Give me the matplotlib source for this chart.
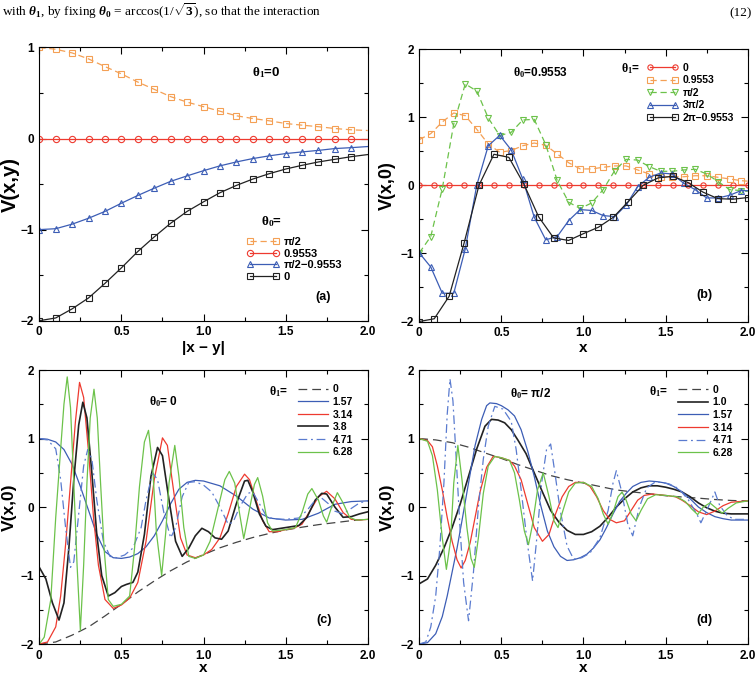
import numpy as np
import matplotlib
matplotlib.use('Agg')
import matplotlib.pyplot as plt
from matplotlib.ticker import MultipleLocator, FuncFormatter

plt.rcParams['font.family'] = ['Liberation Sans', 'DejaVu Sans']
plt.rcParams['font.weight'] = 'bold'
plt.rcParams['mathtext.fontset'] = 'custom'
plt.rcParams['mathtext.rm'] = 'Liberation Serif'
plt.rcParams['mathtext.it'] = 'Liberation Serif:italic'
plt.rcParams['mathtext.bf'] = 'Liberation Serif:bold'

ORANGE = '#f4a055'
RED = '#ee3a2f'
BLUE = '#3c5db5'
BLUE_DD = '#5a7bcf'
GREEN = '#6cc24a'
BLACK = '#222222'

# ---------------- panel (a): theta1 = 0, V(x,y) vs |x-y|
a_x = [0.0, 0.1, 0.2, 0.3, 0.4, 0.5, 0.6, 0.7, 0.8, 0.9, 1.0,
       1.1, 1.2, 1.3, 1.4, 1.5, 1.6, 1.7, 1.8, 1.9, 2.0]
a_half_pi = [1.0, 0.98, 0.94, 0.874, 0.79, 0.71, 0.62, 0.54, 0.46, 0.40, 0.35,
             0.30, 0.25, 0.22, 0.195, 0.165, 0.147, 0.13, 0.11, 0.096, 0.088]
a_0955 = [0.0] * 21
a_diff = [-1.0, -0.99, -0.94, -0.875, -0.80, -0.71, -0.625, -0.545, -0.47, -0.41, -0.353,
          -0.30, -0.257, -0.22, -0.19, -0.165, -0.147, -0.13, -0.11, -0.10, -0.088]
a_zero = [-2.0, -1.97, -1.87, -1.75, -1.59, -1.42, -1.24, -1.08, -0.93, -0.80, -0.695,
          -0.595, -0.515, -0.445, -0.386, -0.335, -0.294, -0.257, -0.228, -0.199, -0.176]

# ---------------- panel (b): theta0 = 0.9553, V(x,0)
b_x_fine = [0.0, 0.07, 0.14, 0.21, 0.28, 0.35, 0.42, 0.49, 0.56, 0.63, 0.70, 0.77, 0.84, 0.91,
            0.98, 1.05, 1.12, 1.19, 1.26, 1.33, 1.40, 1.47, 1.54, 1.61, 1.68, 1.75, 1.82,
            1.89, 1.96, 2.0]
b_x_coarse = list(np.linspace(0, 2, 23))
b_t0 = [0.0] * 23
b_t0955 = [0.67, 0.758, 0.929, 1.061, 1.022, 0.822, 0.606, 0.484, 0.51, 0.58, 0.62, 0.587,
           0.46, 0.33, 0.24, 0.24, 0.264, 0.284, 0.284, 0.225, 0.166, 0.125, 0.127, 0.125,
           0.14, 0.14, 0.117, 0.093, 0.068, 0.06]
b_half_pi = [-0.993, -0.753, -0.05, 0.90, 1.487, 1.384, 0.988, 0.729, 0.778, 0.958, 0.968,
             0.597, 0.07, -0.25, -0.34, -0.26, -0.064, 0.215, 0.38, 0.37, 0.274, 0.205,
             0.205, 0.225, 0.235, 0.166, 0.054, -0.064, -0.078, -0.09]
b_3half_pi = [-0.993, -1.20, -1.585, -1.585, -0.934, 0.0, 0.58, 0.733, 0.518, 0.093, -0.469,
              -0.80, -0.753, -0.518, -0.357, -0.37, -0.445, -0.46, -0.29, -0.02, 0.117, 0.18,
              0.166, 0.03, -0.064, -0.186, -0.186, -0.147, -0.078, -0.08]
b_2pi_m = [-2.0, -1.96, -1.63, -0.85, 0.0, 0.455, 0.41, 0.02, -0.465, -0.773, -0.81, -0.71,
           -0.616, -0.47, -0.24, 0.0, 0.108, 0.132, 0.04, -0.10, -0.196, -0.205, -0.18]

# ---------------- panel (c): theta0 = 0
c_x_0 = a_x
c_v_0 = a_zero
c_x_157 = [0, .05, .1, .15, .2, .25, .3, .35, .4, .45, .5, .55, .6, .65, .7, .75, .8, .85, .9,
           .95, 1.0, 1.1, 1.2, 1.3, 1.4, 1.5, 1.6, 1.7, 1.8, 1.9, 2.0]
c_v_157 = [1.0, 0.99, 0.95, 0.84, 0.62, 0.3, -0.05, -0.4, -0.65, -0.74, -0.75, -0.73, -0.68,
           -0.58, -0.42, -0.2, 0.05, 0.26, 0.36, 0.39, 0.38, 0.31, 0.16, -0.03, -0.16, -0.19,
           -0.18, -0.09, 0.04, 0.08, 0.09]
c_x_314 = [0, .05, .1, .13, .16, .19, .22, .245, .27, .3, .33, .36, .4, .45, .5, .55, .6, .65,
           .7, .75, .78, .82, .86, .9, .95, 1.0, 1.05, 1.1, 1.15, 1.2, 1.25, 1.28, 1.32, 1.36,
           1.4, 1.45, 1.5, 1.55, 1.6, 1.65, 1.7, 1.75, 1.8, 1.85, 1.9, 1.95, 2.0]
c_v_314 = [-2.0, -1.97, -1.75, -1.3, -0.55, 0.35, 1.25, 1.82, 1.6, 0.8, -0.15, -0.85, -1.35,
           -1.48, -1.43, -1.33, -1.1, -0.5, 0.4, 1.01, 0.9, 0.2, -0.45, -0.7, -0.74, -0.7,
           -0.62, -0.45, -0.1, 0.3, 0.48, 0.4, 0.1, -0.2, -0.36, -0.36, -0.33, -0.31, -0.25,
           -0.05, 0.15, 0.23, 0.12, -0.08, -0.18, -0.19, -0.18]
c_x_38 = [0, .04, .08, .12, .15, .18, .21, .24, .265, .29, .32, .35, .38, .42, .46, .5, .53,
          .57, .6, .64, .68, .72, .75, .79, .83, .87, .91, .95, .99, 1.03, 1.07, 1.11, 1.15,
          1.2, 1.25, 1.27, 1.3, 1.34, 1.38, 1.42, 1.5, 1.58, 1.63, 1.68, 1.72, 1.75, 1.8,
          1.85, 1.9, 1.95, 2.0]
c_v_38 = [-0.88, -1.05, -1.4, -1.65, -1.4, -0.6, 0.4, 1.2, 1.53, 1.3, 0.5, -0.4, -1.0, -1.3,
          -1.25, -1.16, -1.13, -1.1, -0.95, -0.4, 0.45, 0.87, 0.75, 0.1, -0.5, -0.72, -0.6,
          -0.42, -0.31, -0.36, -0.45, -0.47, -0.35, 0.05, 0.38, 0.39, 0.22, -0.1, -0.28,
          -0.33, -0.3, -0.27, -0.15, 0.1, 0.2, 0.19, 0.0, -0.15, -0.14, -0.1, -0.07]
c_x_471 = [0, .05, .1, .13, .16, .19, .21, .24, .27, .295, .32, .35, .39, .43, .47, .52, .57,
           .62, .65, .69, .72, .76, .8, .83, .87, .91, .95, 1.0, 1.05, 1.1, 1.15, 1.18, 1.22,
           1.27, 1.3, 1.34, 1.38, 1.42, 1.5, 1.58, 1.63, 1.68, 1.72, 1.76, 1.8, 1.85, 1.9,
           1.95, 2.0]
c_v_471 = [1.0, 0.98, 0.85, 0.4, -0.3, -0.88, -0.8, -0.1, 0.6, 0.84, 0.7, 0.1, -0.5, -0.72,
           -0.74, -0.7, -0.6, -0.3, 0.1, 0.5, 0.4, -0.1, -0.45, -0.3, 0.15, 0.36, 0.37, 0.32,
           0.22, 0.0, -0.25, -0.22, 0.0, 0.2, 0.22, 0.05, -0.12, -0.17, -0.18, -0.16, -0.05,
           0.1, 0.13, 0.05, -0.06, -0.1, -0.02, 0.06, 0.09]
c_x_628 = [0, .03, .07, .1, .13, .15, .17, .19, .21, .23, .25, .27, .29, .31, .333, .353, .373,
           .395, .42, .45, .5, .55, .58, .61, .64, .665, .69, .713, .745, .77, .79, .825, .85,
           .88, .91, .95, 1.0, 1.04, 1.09, 1.13, 1.157, 1.19, 1.22, 1.245, 1.28, 1.31, 1.33,
           1.36, 1.39, 1.42, 1.5, 1.56, 1.6, 1.635, 1.66, 1.7, 1.73, 1.75, 1.78, 1.815, 1.85,
           1.89, 1.93, 2.0]
c_v_628 = [-2.0, -1.9, -1.35, -0.15, 0.85, 1.5, 1.9, 1.45, 0.35, -0.85, -1.8, -0.85, 0.35,
           1.3, 1.72, 1.3, 0.35, -0.62, -1.35, -1.45, -1.42, -1.3, -0.6, 0.3, 0.95, 1.12, 0.6,
           -0.37, -1.0, -0.37, 0.35, 0.9, 0.45, -0.3, -0.72, -0.75, -0.7, -0.5, 0.0, 0.4, 0.52,
           0.35, -0.1, -0.46, -0.03, 0.33, 0.43, 0.16, -0.23, -0.35, -0.33, -0.3, -0.08, 0.19,
           0.27, 0.1, -0.13, -0.22, 0.0, 0.21, 0.06, -0.15, -0.19, -0.18]

# ---------------- panel (d): theta0 = pi/2
d_x_0 = a_x
d_v_0 = a_half_pi
d_x_10 = [0, .05, .1, .15, .2, .25, .3, .35, .4, .44, .48, .52, .56, .6, .65, .7, .75, .8, .85,
          .9, .95, 1.0, 1.05, 1.1, 1.15, 1.2, 1.25, 1.3, 1.35, 1.4, 1.45, 1.5, 1.55, 1.6, 1.65,
          1.7, 1.75, 1.8, 1.85, 1.9, 2.0]
d_v_10 = [-1.12, -1.05, -0.85, -0.6, -0.3, 0.05, 0.45, 0.85, 1.18, 1.28, 1.27, 1.23, 1.13,
          0.98, 0.78, 0.5, 0.22, -0.05, -0.22, -0.34, -0.4, -0.4, -0.36, -0.28, -0.15, 0.0,
          0.12, 0.22, 0.28, 0.31, 0.31, 0.29, 0.26, 0.22, 0.15, 0.06, -0.01, -0.06, -0.09,
          -0.1, -0.1]
d_x_157 = [0, .05, .1, .14, .17, .2, .23, .26, .3, .34, .38, .41, .43, .47, .5, .54, .58, .62,
           .66, .7, .74, .78, .82, .86, .9, .94, .98, 1.02, 1.06, 1.1, 1.14, 1.18, 1.22, 1.26,
           1.3, 1.35, 1.4, 1.45, 1.5, 1.55, 1.6, 1.65, 1.7, 1.75, 1.8, 1.85, 1.9, 2.0]
d_v_157 = [-2.0, -1.98, -1.85, -1.6, -1.3, -0.95, -0.6, -0.2, 0.35, 0.9, 1.28, 1.48, 1.52,
           1.51, 1.48, 1.42, 1.33, 1.13, 0.82, 0.45, 0.02, -0.35, -0.58, -0.72, -0.78, -0.77,
           -0.74, -0.69, -0.6, -0.48, -0.3, -0.1, 0.08, 0.2, 0.3, 0.36, 0.38, 0.37, 0.35, 0.3,
           0.22, 0.12, 0.0, -0.08, -0.14, -0.17, -0.19, -0.19]
d_x_314 = [0, .05, .08, .11, .14, .17, .2, .23, .255, .28, .31, .34, .37, .41, .45, .5, .55,
           .58, .62, .66, .7, .75, .79, .83, .87, .91, .95, 1.0, 1.04, 1.08, 1.12, 1.16, 1.2,
           1.25, 1.29, 1.33, 1.37, 1.42, 1.5, 1.56, 1.6, 1.65, 1.7, 1.75, 1.8, 1.85, 1.9, 2.0]
d_v_314 = [1.0, 0.97, 0.88, 0.6, 0.25, -0.15, -0.5, -0.77, -0.89, -0.78, -0.52, -0.15, 0.22,
           0.58, 0.74, 0.72, 0.68, 0.6, 0.4, 0.05, -0.3, -0.5, -0.4, -0.1, 0.15, 0.3, 0.36,
           0.36, 0.3, 0.15, -0.05, -0.18, -0.23, -0.2, -0.05, 0.1, 0.17, 0.19, 0.17, 0.15,
           0.1, 0.02, -0.07, -0.11, -0.06, 0.02, 0.07, 0.09]
d_x_471 = [0, .04, .07, .1, .125, .15, .17, .187, .205, .225, .248, .27, .3, .33, .36, .39,
           .42, .46, .51, .56, .59, .62, .655, .69, .715, .745, .775, .8, .826, .857, .9, .94,
           .99, 1.04, 1.1, 1.15, 1.18, 1.2, 1.23, 1.27, 1.3, 1.34, 1.385, 1.44, 1.52, 1.58,
           1.64, 1.69, 1.715, 1.76, 1.8, 1.83, 1.877, 1.92, 2.0]
d_v_471 = [-2.0, -1.97, -1.75, -1.3, -0.6, 0.35, 1.35, 1.87, 1.55, 0.7, -0.3, -1.1, -1.66,
           -0.95, 0.0, 0.7, 1.18, 1.47, 1.43, 1.25, 0.84, 0.26, -0.47, -1.08, -0.47, 0.35, 0.84,
           0.92, 0.5, -0.03, -0.57, -0.76, -0.74, -0.67, -0.45, -0.05, 0.35, 0.53, 0.25, -0.25,
           -0.42, 0.0, 0.28, 0.37, 0.34, 0.27, 0.1, -0.1, -0.23, 0.0, 0.22, 0.02, -0.13, -0.18,
           -0.18]
d_x_628 = [0, .05, .08, .11, .14, .165, .19, .21, .235, .26, .29, .315, .335, .36, .39, .42,
           .46, .5, .55, .58, .61, .64, .665, .69, .72, .755, .79, .82, .845, .875, .91, .95,
           1.0, 1.05, 1.09, 1.12, 1.15, 1.18, 1.21, 1.235, 1.26, 1.29, 1.32, 1.35, 1.39, 1.44,
           1.5, 1.57, 1.62, 1.66, 1.695, 1.73, 1.77, 1.8, 1.845, 1.88, 1.93, 2.0]
d_v_628 = [1.0, 0.96, 0.75, 0.25, -0.45, -0.91, -0.5, 0.35, 0.9, 0.4, -0.3, -0.75, -0.88,
           -0.45, 0.2, 0.6, 0.74, 0.72, 0.68, 0.5, 0.1, -0.35, -0.55, -0.25, 0.25, 0.5, 0.15,
           -0.2, -0.3, -0.05, 0.22, 0.35, 0.36, 0.3, 0.12, -0.1, -0.25, -0.08, 0.15, 0.22, 0.1,
           -0.1, -0.2, -0.05, 0.12, 0.18, 0.17, 0.15, 0.08, -0.03, -0.11, 0.0, 0.06, 0.0,
           -0.09, -0.02, 0.06, 0.09]


def setup(ax, ylo, yhi):
    ax.set_xlim(0, 2)
    ax.set_ylim(ylo, yhi)
    ax.xaxis.set_major_locator(MultipleLocator(0.5))
    ax.xaxis.set_minor_locator(MultipleLocator(0.25))
    ax.yaxis.set_major_locator(MultipleLocator(1))
    ax.yaxis.set_minor_locator(MultipleLocator(0.5))
    ax.xaxis.set_major_formatter(FuncFormatter(lambda v, p: '0' if v == 0 else f'{v:.1f}'))
    ax.yaxis.set_major_formatter(FuncFormatter(lambda v, p: f'{int(round(v))}'.replace('-', '\u2212')))
    ax.tick_params(which='both', direction='in', top=True, right=True, width=0.8)
    ax.tick_params(which='major', length=5, labelsize=8.5, pad=4)
    ax.tick_params(which='minor', length=3)
    for s in ax.spines.values():
        s.set_linewidth(0.8)


def labels(ax, xl, yl, xpos, ypos, xsize, ysize):
    ax.set_xlabel(xl, fontsize=xsize, fontweight='bold')
    ax.set_ylabel(yl, fontsize=ysize, fontweight='bold')
    ax.xaxis.set_label_coords(0.5, xpos)
    ax.yaxis.set_label_coords(ypos, 0.5)
    ax.xaxis.label.set_verticalalignment('center')
    ax.yaxis.label.set_verticalalignment('center')


fig = plt.figure(figsize=(7.56, 6.8), dpi=100)
ax_a = fig.add_axes([0.052, 0.5284, 0.4344, 0.4018])
ax_b = fig.add_axes([0.5546, 0.5272, 0.4344, 0.4007])
ax_c = fig.add_axes([0.052, 0.0529, 0.4344, 0.4029])
ax_d = fig.add_axes([0.5546, 0.0529, 0.4344, 0.4029])

mk = dict(markersize=4.5, markerfacecolor='none', markeredgewidth=0.8, linewidth=0.9)
mkb = dict(markersize=3.8, markerfacecolor='none', markeredgewidth=0.8, linewidth=0.9)

# (a)
setup(ax_a, -2, 1)
la1, = ax_a.plot(a_x, a_half_pi, color=ORANGE, marker='s', dashes=(5, 3), markevery=slice(0, 20), **mk)
la2, = ax_a.plot(a_x, a_0955, color=RED, marker='o', markevery=slice(0, 20), **mk)
la3, = ax_a.plot(a_x, a_diff, color=BLUE, marker='^', markevery=slice(0, 20), **mk)
la4, = ax_a.plot(a_x, a_zero, color=BLACK, marker='s', markevery=slice(0, 20), **mk)
ax_a.legend([la1, la2, la3, la4], ['\u03c0/2', '0.9553', '\u03c0/2\u22120.9553', '0'],
            loc='upper left', bbox_to_anchor=(0.632, 0.307), frameon=False, fontsize=8,
            numpoints=2, handlelength=2.9, handletextpad=0.4, labelspacing=0.16,
            borderpad=0, borderaxespad=0)
ax_a.text(0.648, 0.908, r'$\mathrm{\theta}_\mathrm{1}$=0', transform=ax_a.transAxes,
          fontsize=9.5, va='center')
ax_a.text(0.675, 0.362, r'$\mathrm{\theta}_\mathrm{0}$=', transform=ax_a.transAxes,
          fontsize=9.5, va='center')
ax_a.text(0.842, 0.088, '(a)', transform=ax_a.transAxes, fontsize=9, va='center')
labels(ax_a, '|x \u2212 y|', 'V(x,y)', -0.10, -0.088, 11, 14.5)

# (b)
setup(ax_b, -2, 2)
lb1, = ax_b.plot(b_x_coarse, b_t0, color=RED, marker='o', **mkb)
lb2, = ax_b.plot(b_x_fine, b_t0955, color=ORANGE, marker='s', dashes=(5, 3), markevery=slice(0, 29), **mkb)
lb3, = ax_b.plot(b_x_fine, b_half_pi, color=GREEN, marker='v', dashes=(5, 3), markevery=slice(0, 29), **mkb)
lb4, = ax_b.plot(b_x_fine, b_3half_pi, color=BLUE, marker='^', markevery=slice(0, 29), **mkb)
lb5, = ax_b.plot(b_x_coarse, b_2pi_m, color=BLACK, marker='s', **mkb)
ax_b.legend([lb1, lb2, lb3, lb4, lb5], ['0', '0.9553', '\u03c0/2', '3\u03c0/2', '2\u03c0\u22120.9553'],
            loc='upper left', bbox_to_anchor=(0.692, 0.95), frameon=False, fontsize=7.5,
            numpoints=2, handlelength=3.0, handletextpad=0.5, labelspacing=0.25,
            borderpad=0, borderaxespad=0)
ax_b.text(0.613, 0.929, r'$\mathrm{\theta}_\mathrm{1}$=', transform=ax_b.transAxes,
          fontsize=8.5, va='center')
ax_b.text(0.285, 0.914, r'$\mathrm{\theta}_\mathrm{0}$=0.9553', transform=ax_b.transAxes,
          fontsize=8.5, va='center')
ax_b.text(0.845, 0.097, '(b)', transform=ax_b.transAxes, fontsize=9, va='center')
labels(ax_b, 'x', 'V(x,0)', -0.099, -0.098, 11, 13)

ln = dict(linewidth=0.9)

# (c)
setup(ax_c, -2, 2)
lc1, = ax_c.plot(c_x_0, c_v_0, color='#444444', dashes=(7, 4), **ln)
lc2, = ax_c.plot(c_x_157, c_v_157, color=BLUE, **ln)
lc3, = ax_c.plot(c_x_314, c_v_314, color=RED, **ln)
lc4, = ax_c.plot(c_x_38, c_v_38, color=BLACK, linewidth=1.2)
lc5, = ax_c.plot(c_x_471, c_v_471, color=BLUE_DD, dashes=(7, 3, 1.5, 3), **ln)
lc6, = ax_c.plot(c_x_628, c_v_628, color=GREEN, **ln)
ax_c.legend([lc1, lc2, lc3, lc4, lc5, lc6], ['0', '1.57', '3.14', '3.8', '4.71', '6.28'],
            loc='upper left', bbox_to_anchor=(0.788, 0.948), frameon=False, fontsize=7.5,
            handlelength=2.9, handletextpad=0.4, labelspacing=0.25,
            borderpad=0, borderaxespad=0)
ax_c.text(0.70, 0.923, r'$\mathrm{\theta}_\mathrm{1}$=', transform=ax_c.transAxes,
          fontsize=8.5, va='center')
ax_c.text(0.334, 0.884, r'$\mathrm{\theta}_\mathrm{0}$= 0', transform=ax_c.transAxes,
          fontsize=8.5, va='center')
ax_c.text(0.845, 0.088, '(c)', transform=ax_c.transAxes, fontsize=9, va='center')
labels(ax_c, 'x', 'V(x,0)', -0.086, -0.092, 11, 12.5)

# (d)
setup(ax_d, -2, 2)
ld1, = ax_d.plot(d_x_0, d_v_0, color='#444444', dashes=(7, 4), **ln)
ld2, = ax_d.plot(d_x_10, d_v_10, color=BLACK, linewidth=1.2)
ld3, = ax_d.plot(d_x_157, d_v_157, color=BLUE, **ln)
ld4, = ax_d.plot(d_x_314, d_v_314, color=RED, **ln)
ld5, = ax_d.plot(d_x_471, d_v_471, color=BLUE_DD, dashes=(7, 3, 1.5, 3), **ln)
ld6, = ax_d.plot(d_x_628, d_v_628, color=GREEN, **ln)
ax_d.legend([ld1, ld2, ld3, ld4, ld5, ld6], ['0', '1.0', '1.57', '3.14', '4.71', '6.28'],
            loc='upper left', bbox_to_anchor=(0.788, 0.946), frameon=False, fontsize=7.5,
            handlelength=2.9, handletextpad=0.4, labelspacing=0.25,
            borderpad=0, borderaxespad=0)
ax_d.text(0.699, 0.923, r'$\mathrm{\theta}_\mathrm{1}$=', transform=ax_d.transAxes,
          fontsize=8.5, va='center')
ax_d.text(0.276, 0.915, r'$\mathrm{\theta}_\mathrm{0}$= ' + '\u03c0/2', transform=ax_d.transAxes,
          fontsize=8.5, va='center')
ax_d.text(0.845, 0.088, '(d)', transform=ax_d.transAxes, fontsize=9, va='center')
labels(ax_d, 'x', 'V(x,0)', -0.086, -0.098, 11, 12.5)

# line of running text above the figure
fig.text(0.002, 0.976, r'with $\theta_1$, by fixing $\theta_0$ = arccos(1/$\sqrt{3}$), so that the interaction',
         fontsize=9.5, family='Liberation Serif', fontweight='normal', va='baseline')
fig.text(0.995, 0.976, '(12)', fontsize=9.5, family='Liberation Serif', fontweight='normal',
         va='baseline', ha='right')

fig.savefig('out.png', dpi=100)
